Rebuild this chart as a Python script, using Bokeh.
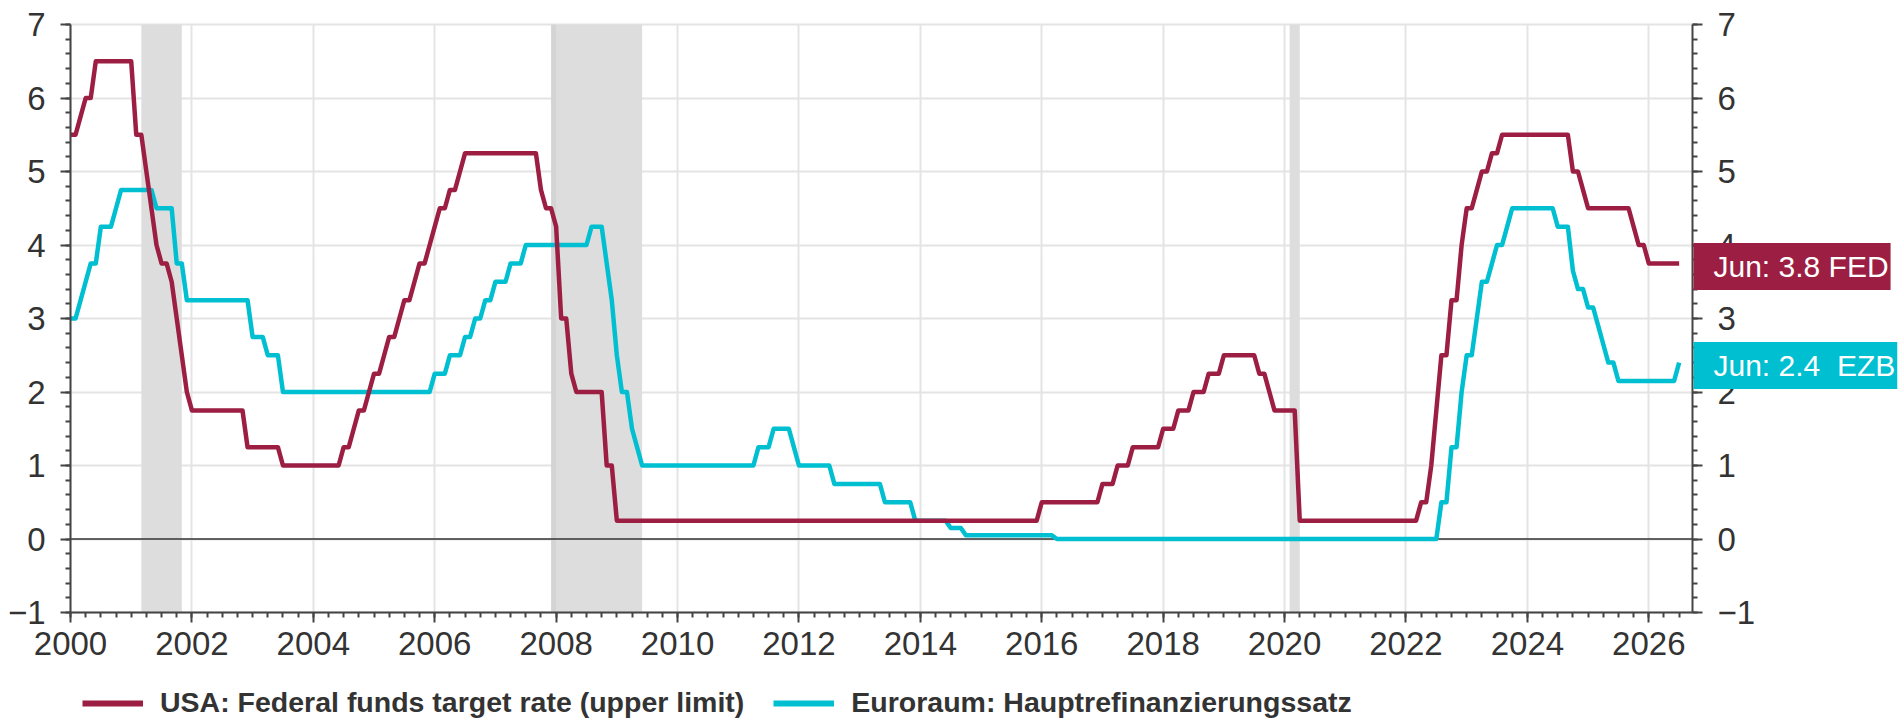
from bokeh.plotting import figure
from bokeh.models import (Range1d, LinearAxis, SingleIntervalTicker, Legend,
                          LegendItem, Label)
from bokeh.embed import file_html
from bokeh.resources import INLINE

# ---------------- data (monthly, end-of-month values; first value = Dec 1999) -------------
first_month = 1999 + 12 / 12   # Dec 1999 plotted at 2000.0 (month-end convention)

fed_rate = [
    5.50,                                                                    # Dec 1999
    5.50, 5.75, 6.00, 6.00, 6.50, 6.50, 6.50, 6.50, 6.50, 6.50, 6.50, 6.50,  # 2000
    5.50, 5.50, 5.00, 4.50, 4.00, 3.75, 3.75, 3.50, 3.00, 2.50, 2.00, 1.75,  # 2001
    1.75, 1.75, 1.75, 1.75, 1.75, 1.75, 1.75, 1.75, 1.75, 1.75, 1.25, 1.25,  # 2002
    1.25, 1.25, 1.25, 1.25, 1.25, 1.00, 1.00, 1.00, 1.00, 1.00, 1.00, 1.00,  # 2003
    1.00, 1.00, 1.00, 1.00, 1.00, 1.25, 1.25, 1.50, 1.75, 1.75, 2.00, 2.25,  # 2004
    2.25, 2.50, 2.75, 2.75, 3.00, 3.25, 3.25, 3.50, 3.75, 3.75, 4.00, 4.25,  # 2005
    4.50, 4.50, 4.75, 4.75, 5.00, 5.25, 5.25, 5.25, 5.25, 5.25, 5.25, 5.25,  # 2006
    5.25, 5.25, 5.25, 5.25, 5.25, 5.25, 5.25, 5.25, 4.75, 4.50, 4.50, 4.25,  # 2007
    3.00, 3.00, 2.25, 2.00, 2.00, 2.00, 2.00, 2.00, 2.00, 1.00, 1.00, 0.25,  # 2008
    0.25, 0.25, 0.25, 0.25, 0.25, 0.25, 0.25, 0.25, 0.25, 0.25, 0.25, 0.25,  # 2009
    0.25, 0.25, 0.25, 0.25, 0.25, 0.25, 0.25, 0.25, 0.25, 0.25, 0.25, 0.25,  # 2010
    0.25, 0.25, 0.25, 0.25, 0.25, 0.25, 0.25, 0.25, 0.25, 0.25, 0.25, 0.25,  # 2011
    0.25, 0.25, 0.25, 0.25, 0.25, 0.25, 0.25, 0.25, 0.25, 0.25, 0.25, 0.25,  # 2012
    0.25, 0.25, 0.25, 0.25, 0.25, 0.25, 0.25, 0.25, 0.25, 0.25, 0.25, 0.25,  # 2013
    0.25, 0.25, 0.25, 0.25, 0.25, 0.25, 0.25, 0.25, 0.25, 0.25, 0.25, 0.25,  # 2014
    0.25, 0.25, 0.25, 0.25, 0.25, 0.25, 0.25, 0.25, 0.25, 0.25, 0.25, 0.50,  # 2015
    0.50, 0.50, 0.50, 0.50, 0.50, 0.50, 0.50, 0.50, 0.50, 0.50, 0.50, 0.75,  # 2016
    0.75, 0.75, 1.00, 1.00, 1.00, 1.25, 1.25, 1.25, 1.25, 1.25, 1.25, 1.50,  # 2017
    1.50, 1.50, 1.75, 1.75, 1.75, 2.00, 2.00, 2.00, 2.25, 2.25, 2.25, 2.50,  # 2018
    2.50, 2.50, 2.50, 2.50, 2.50, 2.50, 2.25, 2.25, 2.00, 1.75, 1.75, 1.75,  # 2019
    1.75, 1.75, 0.25, 0.25, 0.25, 0.25, 0.25, 0.25, 0.25, 0.25, 0.25, 0.25,  # 2020
    0.25, 0.25, 0.25, 0.25, 0.25, 0.25, 0.25, 0.25, 0.25, 0.25, 0.25, 0.25,  # 2021
    0.25, 0.25, 0.50, 0.50, 1.00, 1.75, 2.50, 2.50, 3.25, 3.25, 4.00, 4.50,  # 2022
    4.50, 4.75, 5.00, 5.00, 5.25, 5.25, 5.50, 5.50, 5.50, 5.50, 5.50, 5.50,  # 2023
    5.50, 5.50, 5.50, 5.50, 5.50, 5.50, 5.50, 5.50, 5.00, 5.00, 4.75, 4.50,  # 2024
    4.50, 4.50, 4.50, 4.50, 4.50, 4.50, 4.50, 4.50, 4.25, 4.00, 4.00, 3.75,  # 2025
    3.75, 3.75, 3.75, 3.75, 3.75, 3.75,                                      # 2026
]

ecb_rate = [
    3.00,                                                                    # Dec 1999
    3.00, 3.25, 3.50, 3.75, 3.75, 4.25, 4.25, 4.25, 4.50, 4.75, 4.75, 4.75,  # 2000
    4.75, 4.75, 4.75, 4.75, 4.50, 4.50, 4.50, 4.50, 3.75, 3.75, 3.25, 3.25,  # 2001
    3.25, 3.25, 3.25, 3.25, 3.25, 3.25, 3.25, 3.25, 3.25, 3.25, 3.25, 2.75,  # 2002
    2.75, 2.75, 2.50, 2.50, 2.50, 2.00, 2.00, 2.00, 2.00, 2.00, 2.00, 2.00,  # 2003
    2.00, 2.00, 2.00, 2.00, 2.00, 2.00, 2.00, 2.00, 2.00, 2.00, 2.00, 2.00,  # 2004
    2.00, 2.00, 2.00, 2.00, 2.00, 2.00, 2.00, 2.00, 2.00, 2.00, 2.00, 2.25,  # 2005
    2.25, 2.25, 2.50, 2.50, 2.50, 2.75, 2.75, 3.00, 3.00, 3.25, 3.25, 3.50,  # 2006
    3.50, 3.50, 3.75, 3.75, 3.75, 4.00, 4.00, 4.00, 4.00, 4.00, 4.00, 4.00,  # 2007
    4.00, 4.00, 4.00, 4.00, 4.00, 4.00, 4.25, 4.25, 4.25, 3.75, 3.25, 2.50,  # 2008
    2.00, 2.00, 1.50, 1.25, 1.00, 1.00, 1.00, 1.00, 1.00, 1.00, 1.00, 1.00,  # 2009
    1.00, 1.00, 1.00, 1.00, 1.00, 1.00, 1.00, 1.00, 1.00, 1.00, 1.00, 1.00,  # 2010
    1.00, 1.00, 1.00, 1.25, 1.25, 1.25, 1.50, 1.50, 1.50, 1.50, 1.25, 1.00,  # 2011
    1.00, 1.00, 1.00, 1.00, 1.00, 1.00, 0.75, 0.75, 0.75, 0.75, 0.75, 0.75,  # 2012
    0.75, 0.75, 0.75, 0.75, 0.50, 0.50, 0.50, 0.50, 0.50, 0.50, 0.25, 0.25,  # 2013
    0.25, 0.25, 0.25, 0.25, 0.25, 0.15, 0.15, 0.15, 0.05, 0.05, 0.05, 0.05,  # 2014
    0.05, 0.05, 0.05, 0.05, 0.05, 0.05, 0.05, 0.05, 0.05, 0.05, 0.05, 0.05,  # 2015
    0.05, 0.05, 0.00, 0.00, 0.00, 0.00, 0.00, 0.00, 0.00, 0.00, 0.00, 0.00,  # 2016
    0.00, 0.00, 0.00, 0.00, 0.00, 0.00, 0.00, 0.00, 0.00, 0.00, 0.00, 0.00,  # 2017
    0.00, 0.00, 0.00, 0.00, 0.00, 0.00, 0.00, 0.00, 0.00, 0.00, 0.00, 0.00,  # 2018
    0.00, 0.00, 0.00, 0.00, 0.00, 0.00, 0.00, 0.00, 0.00, 0.00, 0.00, 0.00,  # 2019
    0.00, 0.00, 0.00, 0.00, 0.00, 0.00, 0.00, 0.00, 0.00, 0.00, 0.00, 0.00,  # 2020
    0.00, 0.00, 0.00, 0.00, 0.00, 0.00, 0.00, 0.00, 0.00, 0.00, 0.00, 0.00,  # 2021
    0.00, 0.00, 0.00, 0.00, 0.00, 0.00, 0.50, 0.50, 1.25, 1.25, 2.00, 2.50,  # 2022
    2.50, 3.00, 3.50, 3.50, 3.75, 4.00, 4.00, 4.25, 4.50, 4.50, 4.50, 4.50,  # 2023
    4.50, 4.50, 4.50, 4.50, 4.50, 4.25, 4.25, 4.25, 3.65, 3.40, 3.40, 3.15,  # 2024
    3.15, 2.90, 2.65, 2.40, 2.40, 2.15, 2.15, 2.15, 2.15, 2.15, 2.15, 2.15,  # 2025
    2.15, 2.15, 2.15, 2.15, 2.15, 2.40,                                      # 2026
]

# US recessions (start / end as decimal years)
recession_start = [2001 + 2 / 12, 2007 + 11 / 12, 2020 + 1 / 12]
recession_end = [2001 + 10 / 12, 2009 + 5 / 12, 2020 + 3 / 12]
recession_overlap_start = [2007 + 11 / 12]
recession_overlap_end = [2008.0]

legend_labels = ["USA: Federal funds target rate (upper limit)",
                 "Euroraum: Hauptrefinanzierungssatz"]
end_labels = ["Jun: 3.8 FED", "Jun: 2.4\u00a0 EZB"]

x_years = [first_month + i / 12 for i in range(len(fed_rate))]

# ---------------- style / layout ----------------
FED = "#9c1f43"
ECB = "#00bfd1"
AXIS = "#444444"
TEXT = "#333333"
FONT = "Liberation Sans"

X_START, X_END = 2000, 2026.72        # axis bounds
Y_MIN, Y_MAX = -1, 7
W, H = 1903, 718
LEFT, TOP = 70, 24                    # position of the axes box inside the canvas
PX_PER_YEAR = 1622 / (X_END - X_START)
PX_PER_UNIT = 588 / (Y_MAX - Y_MIN)
x_range = Range1d(X_START - LEFT / PX_PER_YEAR, X_START + (W - LEFT) / PX_PER_YEAR)
y_range = Range1d(Y_MAX - (H - TOP) / PX_PER_UNIT, Y_MAX + TOP / PX_PER_UNIT)

p = figure(width=W, height=H,
           min_border_left=0, min_border_right=0,
           min_border_top=0, min_border_bottom=0,
           x_range=x_range, y_range=y_range,
           x_axis_location=None, y_axis_location=None,
           output_backend="svg", toolbar_location=None)
p.outline_line_color = None
p.background_fill_color = "white"
p.border_fill_color = "white"

xticker = SingleIntervalTicker(interval=2, num_minor_ticks=8)
yticker = SingleIntervalTicker(interval=1, num_minor_ticks=5)

x_axis = LinearAxis(ticker=xticker, bounds=(X_START, X_END), fixed_location=Y_MIN)
left_axis = LinearAxis(ticker=yticker, bounds=(Y_MIN, Y_MAX), fixed_location=X_START)
right_axis = LinearAxis(ticker=yticker, bounds=(Y_MIN, Y_MAX), fixed_location=X_END)
p.add_layout(x_axis, "below")
p.add_layout(left_axis, "left")
p.add_layout(right_axis, "right")

p.xgrid.ticker = xticker
p.ygrid.ticker = yticker
p.xgrid.bounds = (X_START, X_END)
p.ygrid.bounds = (Y_MIN, Y_MAX)
for g in (p.xgrid, p.ygrid):
    g.grid_line_color = "#e4e4e4"
    g.grid_line_width = 2

covered = True
try:
    p.xgrid[0].cross_bounds = (Y_MIN, Y_MAX)
    p.ygrid[0].cross_bounds = (X_START, X_END)
except Exception:
    covered = False
if not covered:
    for l, r, b, t in ((X_END, x_range.end + 1, y_range.start - 1, y_range.end + 1),
                       (x_range.start - 1, X_START, y_range.start - 1, y_range.end + 1),
                       (x_range.start - 1, x_range.end + 1, y_range.start - 1, Y_MIN),
                       (x_range.start - 1, x_range.end + 1, Y_MAX, y_range.end + 1)):
        rr = p.quad(left=[l], right=[r], bottom=[b], top=[t], fill_color="white", line_color=None)
        rr.level = "underlay"

for ax in (x_axis, left_axis, right_axis):
    ax.axis_line_color = AXIS
    ax.axis_line_width = 2
    ax.major_tick_line_color = AXIS
    ax.major_tick_line_width = 2
    ax.minor_tick_line_color = AXIS
    ax.minor_tick_line_width = 2
    ax.major_tick_in = 0
    ax.major_tick_out = 10
    ax.minor_tick_in = 0
    ax.minor_tick_out = 5
    ax.major_label_text_font = FONT
    ax.major_label_text_font_size = "33px"
    ax.major_label_text_color = TEXT
x_axis.major_label_standoff = 9
left_axis.major_label_standoff = 15
right_axis.major_label_standoff = 15

# recession bands
p.quad(left=recession_start, right=recession_end, bottom=Y_MIN, top=Y_MAX,
       fill_color="#dddddd", line_color=None)
p.quad(left=recession_overlap_start, right=recession_overlap_end, bottom=Y_MIN, top=Y_MAX,
       fill_color="#000000", fill_alpha=0.04, line_color=None)

# zero line
p.segment(x0=[X_START], x1=[X_END], y0=[0], y1=[0], line_color="#333333", line_width=1.3)

# data lines
p.line(x_years, ecb_rate, line_color=ECB, line_width=4.5, line_join="round")
p.line(x_years, fed_rate, line_color=FED, line_width=4.5, line_join="round")

# legend (thicker sample lines; renderers hold a single NaN so nothing shows in the plot)
nan = float("nan")
d_fed = p.line([nan], [nan], line_color=FED, line_width=6)
d_ecb = p.line([nan], [nan], line_color=ECB, line_width=6)
legend = Legend(items=[LegendItem(label=legend_labels[0], renderers=[d_fed]),
                       LegendItem(label=legend_labels[1], renderers=[d_ecb])],
                location=(LEFT + 12, -1), orientation="horizontal",
                glyph_width=61, label_standoff=17, spacing=29,
                padding=0, margin=0, border_line_color=None,
                background_fill_alpha=0,
                label_text_font=FONT, label_text_font_style="bold",
                label_text_font_size="28.5px", label_text_color=TEXT)
p.add_layout(legend, "center")

# end-value labels at the right axis
for txt, val, col in ((end_labels[0], fed_rate[-1], FED), (end_labels[1], ecb_rate[-1], ECB)):
    p.add_layout(Label(x=X_END, y=val, text=txt, x_offset=1, y_offset=-3,
                       text_align="left", text_baseline="middle",
                       text_font=FONT, text_font_size="30px", text_color="white",
                       background_fill_color=col, padding=(20, 2, 7, 7)))

open("out.html", "w").write(file_html(p, INLINE, "chart"))
